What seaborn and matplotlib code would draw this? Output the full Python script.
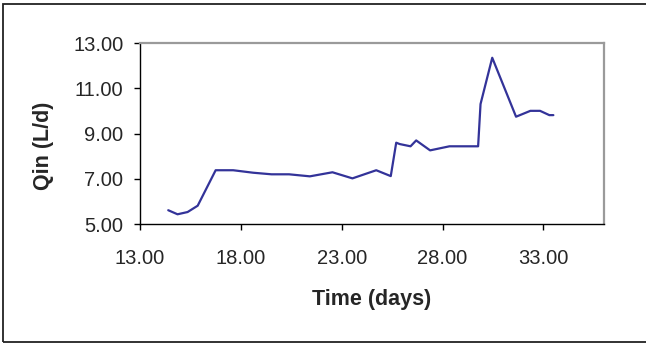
import pandas as pd
import numpy as np
import matplotlib
matplotlib.use("Agg")
import matplotlib.pyplot as plt
import seaborn as sns

# values
time_days = [14.40, 14.86, 15.36, 15.86, 16.75, 17.62, 18.61, 19.52, 20.39,
             21.42, 22.54, 23.53, 24.71, 25.43, 25.70, 25.87, 26.41, 26.69,
             27.38, 28.34, 29.76, 29.88, 30.46, 31.64, 32.35, 32.83, 33.29,
             33.49]
qin = [5.61, 5.43, 5.53, 5.81, 7.38, 7.38, 7.27, 7.20, 7.20,
       7.11, 7.29, 7.02, 7.38, 7.12, 8.60, 8.54, 8.44, 8.70,
       8.26, 8.44, 8.44, 10.31, 12.36, 9.75, 10.01, 10.01, 9.82,
       9.82]
x_ticks = [13, 18, 23, 28, 33]
y_ticks = [5, 7, 9, 11, 13]


def main():
    sns.set_style("ticks")
    plt.rcParams['font.family'] = ['Liberation Sans', 'DejaVu Sans']

    df = pd.DataFrame({'Time': time_days, 'Qin': qin})

    fig = plt.figure(figsize=(6.46, 3.44), dpi=100)
    ax = fig.add_axes([140 / 646, 120 / 344, 464 / 646, 180.7 / 344])

    sns.lineplot(data=df, x='Time', y='Qin', sort=False, color='#333399',
                 linewidth=1.6, ax=ax)

    ax.set_xlim(13, 36)
    ax.set_ylim(5, 13)
    ax.set_xticks(x_ticks)
    ax.set_yticks(y_ticks)
    ax.set_xticklabels([f"{v:.2f}" for v in x_ticks])
    ax.set_yticklabels([f"{v:.2f}" for v in y_ticks])
    ax.tick_params(axis='x', direction='out', length=4, width=1, color='black',
                   labelsize=14.5, pad=14)
    ax.tick_params(axis='y', direction='out', length=4, width=1, color='black',
                   labelsize=14.5, pad=8)

    for side in ['left', 'bottom']:
        ax.spines[side].set_color('black')
        ax.spines[side].set_linewidth(1.0)
    for side in ['top', 'right']:
        ax.spines[side].set_visible(True)
        ax.spines[side].set_color('#9a9a9a')
        ax.spines[side].set_linewidth(1.6)

    ax.set_xlabel('Time (days)', fontsize=15.5, fontweight='bold')
    ax.set_ylabel('Qin (L/d)', fontsize=15.5, fontweight='bold')
    ax.xaxis.set_label_coords(0.5, -0.36)
    ax.yaxis.set_label_coords(-0.185, 0.43)

    # outer frame of the chart area
    frame = plt.Rectangle((3 / 646, 2.5 / 344), 1.0, 338 / 344,
                          transform=fig.transFigure, fill=False,
                          edgecolor='#222222', linewidth=1.3)
    fig.patches.append(frame)

    fig.savefig('out.png', dpi=100)


if __name__ == "__main__":
    main()
